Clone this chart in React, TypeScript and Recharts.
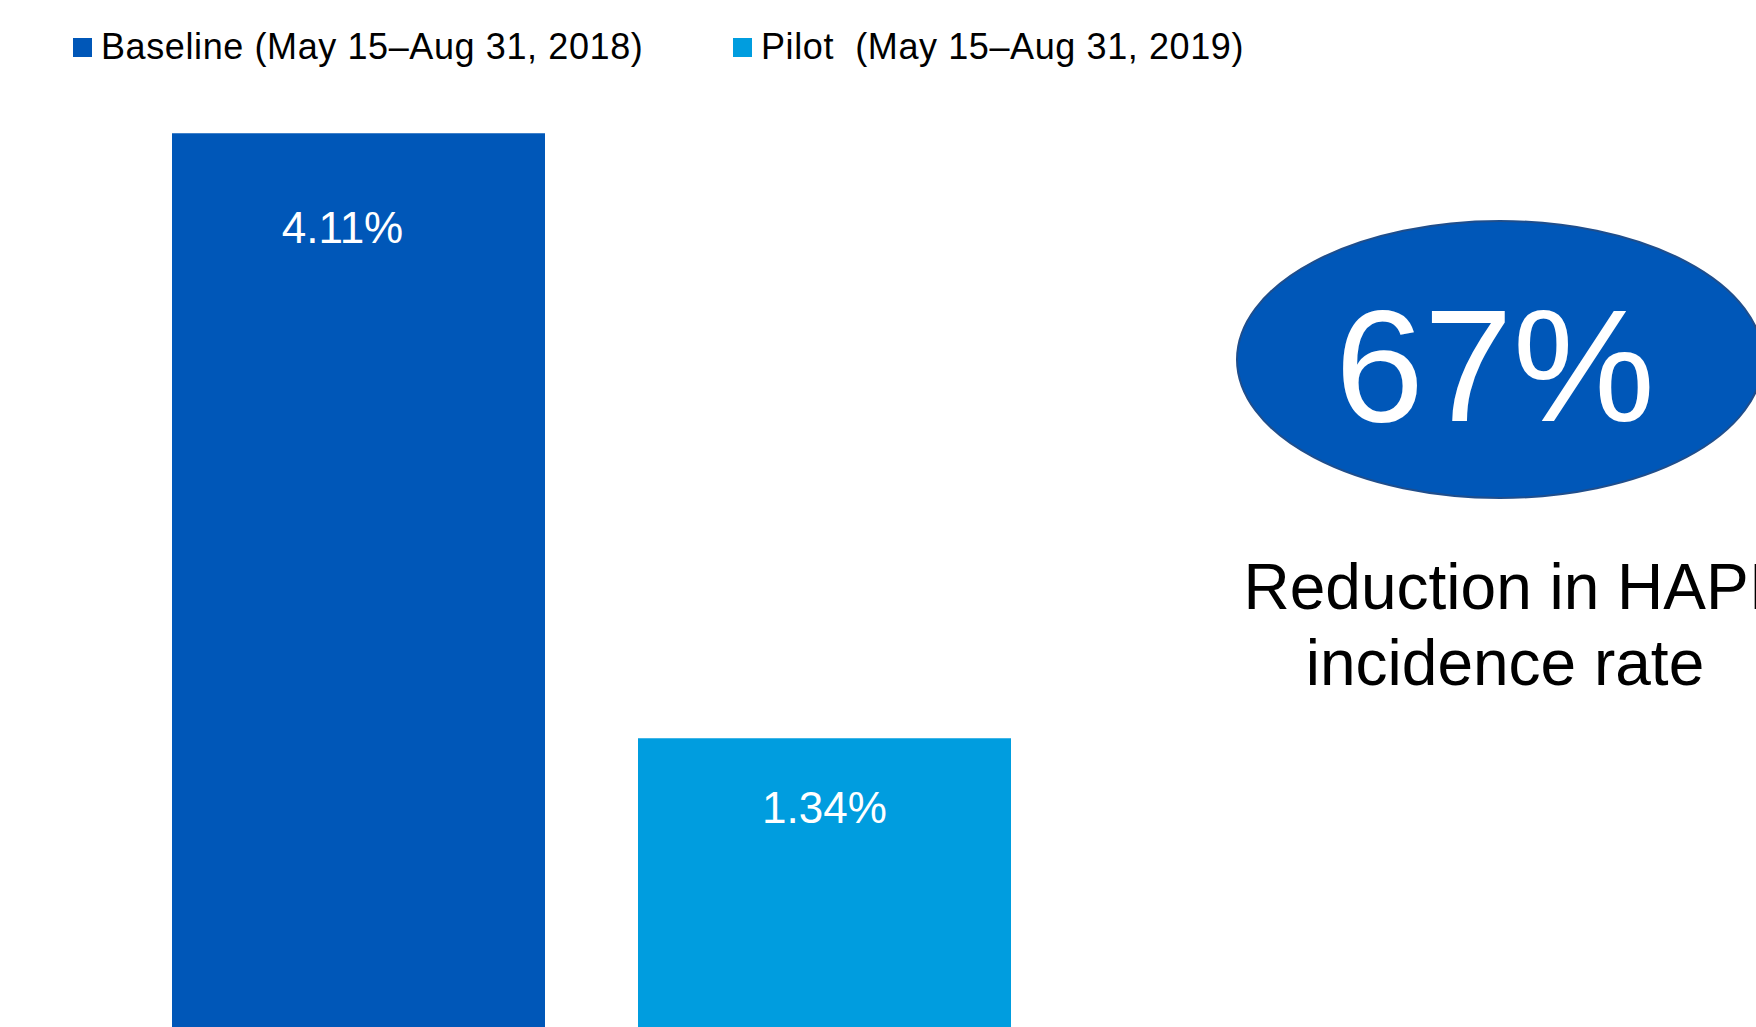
import React from 'react';
import { BarChart, Bar, XAxis, YAxis, Legend, LabelList } from 'recharts';

const categories = ['HAPI incidence rate'];
const seriesNames = ['Baseline (May 15–Aug 31, 2018)', 'Pilot  (May 15–Aug 31, 2019)'];
const baselineValues = [4.11];
const pilotValues = [1.34];
const seriesColors = ['#0057B8', '#009DDF'];
const calloutLines = ['Reduction in HAPI', 'incidence rate'];

const FONT = '"Liberation Sans", Arial, sans-serif';

const data = categories.map((name, i) => ({
  name,
  baseline: baselineValues[i],
  pilot: pilotValues[i],
}));

// reduction shown in the callout bubble
const reduction = Math.round(((baselineValues[0] - pilotValues[0]) / baselineValues[0]) * 100);

const makeLabel = (shift: number, drop: number) => (props: any) => {
  const { x, y, width, value } = props;
  return (
    <text
      x={Number(x) + Number(width) / 2 + shift}
      y={Number(y) + drop}
      textAnchor="middle"
      fill="#ffffff"
      fontSize={44}
      fontFamily={FONT}
    >
      {`${Number(value).toFixed(2)}%`}
    </text>
  );
};

const renderLegend = () => (
  <div style={{ display: 'flex', fontFamily: FONT, fontSize: 36, letterSpacing: 0.6, lineHeight: '36px', color: '#000' }}>
    {seriesNames.map((name, i) => (
      <div key={name} style={{ display: 'flex', alignItems: 'center', width: 660, whiteSpace: 'pre' }}>
        <span style={{ display: 'inline-block', width: 19, height: 19, background: seriesColors[i], marginRight: 9 }} />
        <span>{name}</span>
      </div>
    ))}
  </div>
);

const App: React.FC = () => {
  return (
    <div style={{ position: 'absolute', left: 0, top: 0, width: 1756, height: 1027, overflow: 'hidden', background: '#ffffff' }}>
      <BarChart
        width={1756}
        height={1040}
        data={data}
        margin={{ top: 12, right: 573, left: 0, bottom: 9 }}
        barSize={373}
        barGap={93}
        barCategoryGap={0}
      >
        <XAxis dataKey="name" hide />
        <YAxis hide domain={[0, 4.5]} />
        <Legend
          verticalAlign="top"
          content={renderLegend}
          wrapperStyle={{ position: 'absolute', top: 29, left: 73, width: 1400 }}
        />
        <Bar dataKey="baseline" name={seriesNames[0]} fill={seriesColors[0]} isAnimationActive={false}>
          <LabelList dataKey="baseline" content={makeLabel(-16, 110)} />
        </Bar>
        <Bar dataKey="pilot" name={seriesNames[1]} fill={seriesColors[1]} isAnimationActive={false}>
          <LabelList dataKey="pilot" content={makeLabel(0, 85)} />
        </Bar>
      </BarChart>
      <svg width={1756} height={1027} style={{ position: 'absolute', left: 0, top: 0, pointerEvents: 'none' }}>
        <ellipse cx={1500} cy={359.5} rx={263} ry={138.5} fill="#0057B8" stroke="#1F4E8C" strokeWidth={2} />
        <text x={1495} y={421} textAnchor="middle" fill="#ffffff" fontSize={160} fontFamily={FONT}>
          {`${reduction}%`}
        </text>
        {calloutLines.map((line, i) => (
          <text key={line} x={1505} y={609 + i * 76} textAnchor="middle" fill="#000000" fontSize={64} fontFamily={FONT}>
            {line}
          </text>
        ))}
      </svg>
    </div>
  );
};

export default App;
